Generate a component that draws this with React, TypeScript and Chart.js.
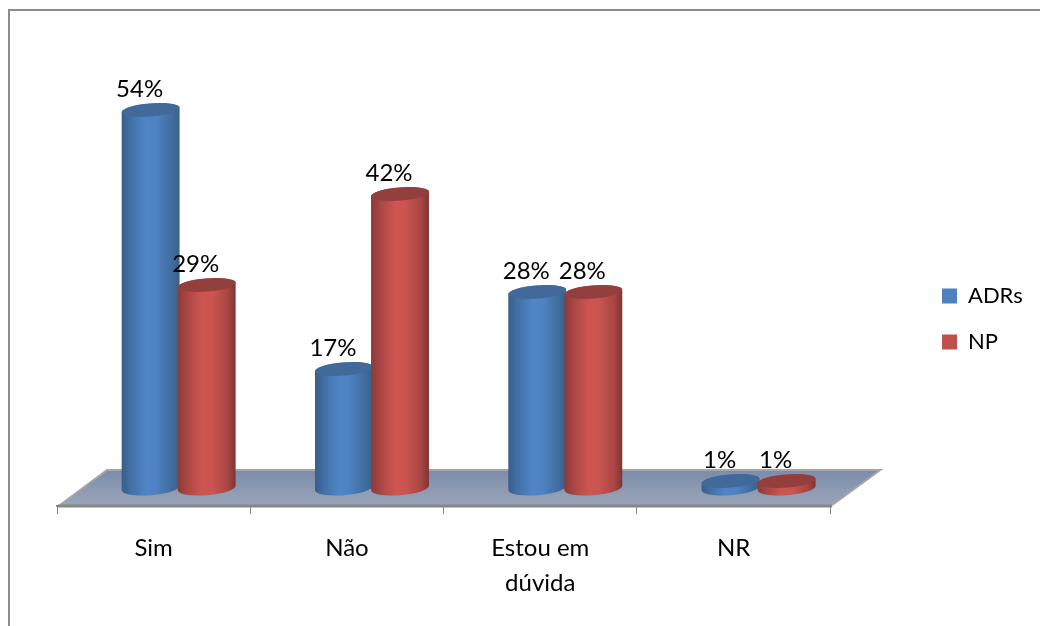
import React, { useEffect, useRef } from "react";
import { Chart, registerables } from "chart.js";

Chart.register(...registerables);

const categories = ["Sim", "Não", ["Estou em", "dúvida"], "NR"];
const adrsValues = [54, 17, 28, 1];
const npValues = [29, 42, 28, 1];

const FONT = "Lato, Carlito, Calibri, sans-serif";
const BLUE = { flat: "#4F81BD", cap: "#41699A", stops: ["#385D8A", "#4270A6", "#5085C6", "#4F82C2", "#416C9E", "#3A5F8A"] };
const RED = { flat: "#C0504D", cap: "#923F3D", stops: ["#8A3A38", "#A94644", "#CD5652", "#CA5450", "#A84643", "#7E3533"] };
const STOP_AT = [0, 0.16, 0.42, 0.6, 0.86, 1];
const palette = [BLUE, RED];

// Cylinders stand a little behind the front edge of the floor.
const DEPTH_X = 25;
const DEPTH_Y = -18;
const CAP_RY = 6.6;
const CAP_TILT = -0.08;

function paintCylinder(ctx: CanvasRenderingContext2D, x: number, top: number, base: number, rx: number, look: typeof BLUE) {
  const g = ctx.createLinearGradient(x - rx, 0, x + rx, 0);
  look.stops.forEach((c, i) => g.addColorStop(STOP_AT[i], c));
  ctx.beginPath();
  ctx.ellipse(x, base, rx, CAP_RY + 0.6, CAP_TILT, 0, Math.PI);
  ctx.ellipse(x, top, rx, CAP_RY, CAP_TILT, Math.PI, Math.PI * 2);
  ctx.closePath();
  ctx.fillStyle = g;
  ctx.fill();
  ctx.beginPath();
  ctx.ellipse(x, top, rx, CAP_RY, CAP_TILT, 0, Math.PI * 2);
  ctx.fillStyle = look.cap;
  ctx.fill();
}

const scenery = {
  id: "scenery",
  beforeDraw(chart: any) {
    const { ctx, width, height } = chart;
    ctx.save();
    ctx.fillStyle = "#FFFFFF";
    ctx.fillRect(0, 0, width, height);
    ctx.strokeStyle = "#8C8C8C";
    ctx.lineWidth = 2;
    ctx.beginPath();
    ctx.moveTo(9, height);
    ctx.lineTo(9, 10);
    ctx.lineTo(width, 10);
    ctx.stroke();
    ctx.restore();
  },
  beforeDatasetsDraw(chart: any) {
    const { ctx, chartArea: a } = chart;
    const front = a.bottom - 1;
    const back = a.bottom - 36;
    ctx.save();
    const g = ctx.createLinearGradient(0, back, 0, front);
    g.addColorStop(0, "#7B8CAA");
    g.addColorStop(1, "#9AA5B8");
    ctx.beginPath();
    ctx.moveTo(a.left + 3, front);
    ctx.lineTo(a.left + 50, back);
    ctx.lineTo(a.right + 50, back);
    ctx.lineTo(a.right + 2, front);
    ctx.closePath();
    ctx.fillStyle = g;
    ctx.fill();
    ctx.strokeStyle = "#A6A6A6";
    ctx.lineWidth = 2;
    ctx.beginPath();
    ctx.moveTo(a.left + 3, front);
    ctx.lineTo(a.left + 50, back);
    ctx.lineTo(a.right + 50, back);
    ctx.lineTo(a.right + 2, front);
    ctx.stroke();
    ctx.strokeStyle = "#868686";
    ctx.lineWidth = 3;
    ctx.beginPath();
    ctx.moveTo(a.left + 1, a.bottom);
    ctx.lineTo(a.right + 2, a.bottom);
    ctx.stroke();
    ctx.restore();
  },
  afterDatasetsDraw(chart: any) {
    const { ctx } = chart;
    ctx.save();
    ctx.translate(DEPTH_X, DEPTH_Y);
    // Second series goes on top, where the neighbouring cylinders overlap.
    chart.data.datasets.forEach((_: any, i: number) => {
      chart.getDatasetMeta(i).data.forEach((bar: any) => {
        const p = bar.getProps(["x", "y", "base", "width"], true);
        paintCylinder(ctx, p.x, p.y, p.base, p.width / 2, palette[i]);
      });
    });
    ctx.translate(-11, -21);
    ctx.font = `24px ${FONT}`;
    ctx.fillStyle = "#000000";
    ctx.textAlign = "center";
    ctx.textBaseline = "middle";
    chart.data.datasets.forEach((ds: any, i: number) => {
      chart.getDatasetMeta(i).data.forEach((bar: any, j: number) => {
        ctx.fillText(`${ds.data[j]}%`, bar.x, bar.y);
      });
    });
    ctx.restore();
  },
  afterLayout(chart: any) {
    const legend = chart.legend;
    const h = legend.bottom - legend.top;
    const w = legend.right - legend.left;
    legend.top = 319 - h / 2;
    legend.bottom = legend.top + h;
    legend.left = 918;
    legend.right = legend.left + w;
  },
};

export default function App() {
  const ref = useRef<HTMLCanvasElement>(null);
  useEffect(() => {
    const chart = new Chart(ref.current!, {
      type: "bar",
      data: {
        labels: categories as any,
        datasets: [
          { label: "ADRs", data: adrsValues, backgroundColor: "rgba(0,0,0,0)" },
          { label: "NP", data: npValues, backgroundColor: "rgba(0,0,0,0)" },
        ],
      },
      plugins: [scenery],
      options: {
        responsive: false,
        animation: false,
        categoryPercentage: 0.58,
        barPercentage: 1.036,
        layout: { padding: { left: 57, top: 86, right: 95, bottom: 0 } },
        scales: {
          y: { display: false, min: 0, max: 60 },
          x: {
            afterFit: (s: any) => {
              s.height = 120;
            },
            grid: { display: true, drawOnChartArea: false, drawTicks: true, tickLength: 8, color: "#868686", lineWidth: 1 },
            border: { display: true, color: "#868686", width: 2 },
            ticks: {
              autoSkip: false,
              maxRotation: 0,
              padding: 17,
              color: "#000000",
              font: { family: FONT, size: 24, lineHeight: "35px" },
            },
          },
        },
        plugins: {
          tooltip: { enabled: false },
          legend: {
            position: "right",
            labels: {
              boxWidth: 15,
              boxHeight: 15,
              padding: 24,
              color: "#000000",
              font: { family: FONT, size: 22 },
              generateLabels: (c: any) =>
                Chart.defaults.plugins.legend.labels
                  .generateLabels(c)
                  .map((item: any, i: number) => ({ ...item, fillStyle: palette[i].flat, strokeStyle: palette[i].flat, lineWidth: 0 })),
            },
          },
        },
      } as any,
    });
    return () => chart.destroy();
  }, []);
  return (
    <div style={{ position: "absolute", left: 0, top: 0, width: 1040, height: 626 }}>
      <canvas ref={ref} width={1040} height={626} style={{ display: "block" }} />
    </div>
  );
}
